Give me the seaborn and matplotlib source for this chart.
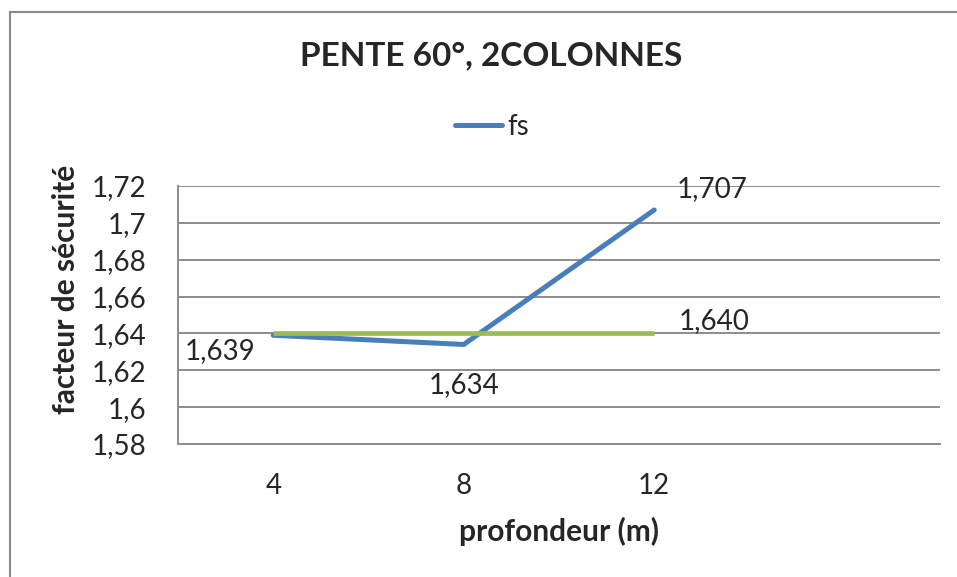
import matplotlib
matplotlib.use("Agg")
import matplotlib.pyplot as plt
from matplotlib.patches import Rectangle
from matplotlib.lines import Line2D
import seaborn as sns
import pandas as pd

# Data
depths = ["4", "8", "12"]
fs_values = [1.639, 1.634, 1.707]
limit_values = [1.640, 1.640, 1.640]
fs_labels = ["1,639", "1,634", "1,707"]
limit_label = "1,640"
y_ticks = [1.58, 1.60, 1.62, 1.64, 1.66, 1.68, 1.70, 1.72]
y_tick_labels = ["1,58", "1,6", "1,62", "1,64", "1,66", "1,68", "1,7", "1,72"]

sns.set_style("white")
plt.rcParams["font.family"] = ["Lato", "DejaVu Sans"]

BLUE = "#4A7EBB"
GREEN = "#9BBB59"
GRID = "#8c8c8c"
FS = 20

fig = plt.figure(figsize=(9.57, 5.77), dpi=100)
ax = fig.add_axes([178 / 957, 1 - 444 / 577, (940 - 178) / 957, (444 - 186) / 577])

df = pd.DataFrame({"profondeur": depths, "fs": fs_values, "limite": limit_values})

sns.lineplot(data=df, x="profondeur", y="fs", ax=ax, color=BLUE, lw=3.6,
             sort=False, solid_capstyle="round", solid_joinstyle="miter")
sns.lineplot(data=df, x="profondeur", y="limite", ax=ax, color=GREEN, lw=3.4,
             sort=False, solid_capstyle="butt")

# Category axis with an empty fourth slot
ax.set_xlim(-0.5, 3.5)
ax.set_xticks([-0.5, 0.5, 1.5, 2.5, 3.5])
ax.set_xticklabels([])
ax.set_xticks(range(len(depths)), labels=depths, minor=True)
ax.tick_params(axis="x", which="major", length=8, width=1.3, color=GRID, direction="out")
ax.tick_params(axis="x", which="minor", length=0, pad=21, labelsize=FS)

ax.set_ylim(1.58, 1.72)
ax.set_yticks(y_ticks, labels=y_tick_labels)
ax.tick_params(axis="y", length=8, width=1.3, color=GRID, direction="out", labelsize=FS, pad=15)
ax.yaxis.grid(True, color=GRID, lw=1.4)
ax.set_axisbelow(True)

for side in ["top", "right"]:
    ax.spines[side].set_visible(False)
for side in ["left", "bottom"]:
    ax.spines[side].set_color(GRID)
    ax.spines[side].set_linewidth(1.4)

ax.set_xlabel("profondeur (m)", fontsize=21.5, fontweight="bold", labelpad=13)
ax.set_ylabel("facteur de sécurité", fontsize=21.5, fontweight="bold", va="center")
ax.yaxis.set_label_coords((66 - 178) / 762, (444 - 289) / 258)

# Value labels
ax.annotate(fs_labels[0], (0, fs_values[0]), xytext=(-38, -11), textcoords="offset points",
            ha="center", va="center", fontsize=FS)
ax.annotate(fs_labels[1], (1, fs_values[1]), xytext=(0, -29), textcoords="offset points",
            ha="center", va="center", fontsize=FS)
ax.annotate(fs_labels[2], (2, fs_values[2]), xytext=(42, 15), textcoords="offset points",
            ha="center", va="center", fontsize=FS)
ax.annotate(limit_label, (2, limit_values[2]), xytext=(43, 9), textcoords="offset points",
            ha="center", va="center", fontsize=FS)

fig.suptitle("PENTE 60°, 2COLONNES", x=491 / 957, y=1 - 56 / 577, va="center",
             fontsize=24, fontweight="bold")

handle = Line2D([], [], color=BLUE, lw=3.6, solid_capstyle="round")
fig.legend([handle], ["fs"], loc="center", bbox_to_anchor=(492 / 957, 1 - 127 / 577),
           frameon=False, fontsize=FS, handlelength=1.7, handletextpad=0.2)

# Chart frame
fig.patches.append(Rectangle((10 / 957, -0.05), 1.0, 1 - 12 / 577 + 0.05,
                             transform=fig.transFigure, fill=False,
                             edgecolor="#8a8a8a", lw=1.5))

fig.savefig("out.png", dpi=100)
